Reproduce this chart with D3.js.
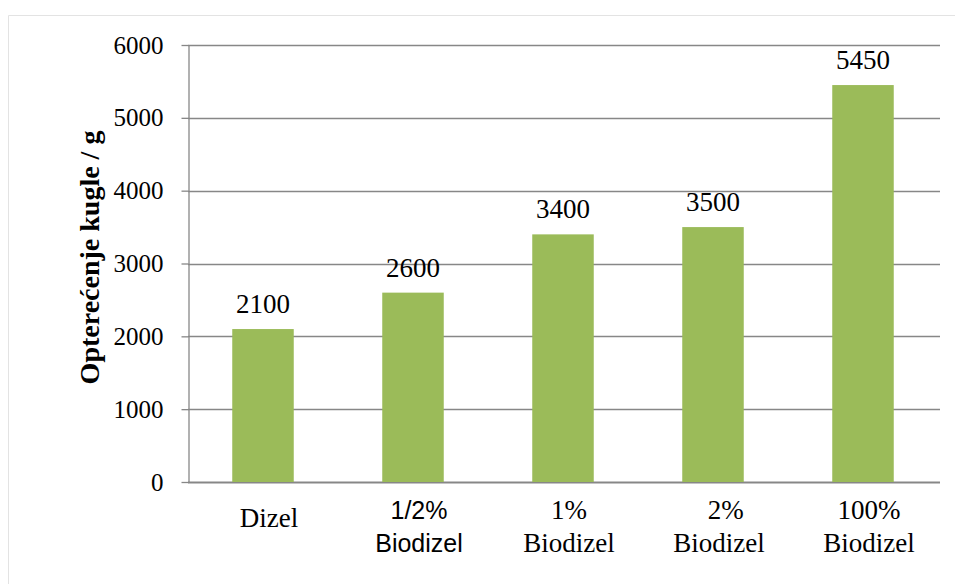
<!DOCTYPE html>
<html>
<head>
<meta charset="utf-8">
<script src="https://cdn.jsdelivr.net/npm/d3@7"></script>
<style>
  body { margin: 0; background: #fff; }
  .serif { font-family: "Liberation Serif", "Times New Roman", Times, serif; }
  .sans { font-family: "Liberation Sans", Arial, sans-serif; }
</style>
</head>
<body>
<div id="vis1"></div>
<script>
// data
const categories = ["Dizel", "1/2% Biodizel", "1% Biodizel", "2% Biodizel", "100% Biodizel"];
const labelLines = [["Dizel"], ["1/2%", "Biodizel"], ["1%", "Biodizel"], ["\u00a0\u00a02%", "Biodizel"], ["100%", "Biodizel"]];
const values = [2100, 2600, 3400, 3500, 5450];
const yTicks = [0, 1000, 2000, 3000, 4000, 5000, 6000];
const yTitle = "Opterećenje kugle / g";

// set the dimensions and margins of the graph
let margin = { top: 45, left: 188, right: 15, bottom: 102 },
  width = 955 - margin.left - margin.right,
  height = 584 - margin.top - margin.bottom;

const svg = d3.select("#vis1")
  .append("svg")
  .attr("width", 955)
  .attr("height", 584);

// outer frame (only top and left edges show)
svg.append("path")
  .attr("d", "M8.5,584 V15.5 H955")
  .attr("fill", "none")
  .attr("stroke", "#e3e3e3")
  .attr("stroke-width", 1);

const g = svg.append("g")
  .attr("transform", `translate(${margin.left},${margin.top})`);

const x = d3.scaleBand()
  .domain(categories)
  .range([0, 750])
  .paddingInner(0.59)
  .paddingOuter(0.295);

const y = d3.scaleLinear()
  .domain([0, 6000])
  .range([height, 0]);

// grid lines
g.append("g")
  .selectAll("line")
  .data(yTicks)
  .join("line")
    .attr("x1", 0)
    .attr("x2", 752)
    .attr("y1", d => Math.round(y(d)) + 0.5)
    .attr("y2", d => Math.round(y(d)) + 0.5)
    .attr("stroke", "#878787")
    .attr("stroke-width", d => d === 0 ? 2 : 1.3);

// Y axis
const yAxis = g.append("g")
  .attr("transform", "translate(0.5,0)")
  .call(d3.axisLeft(y).tickValues(yTicks).tickFormat(d3.format("d"))
    .tickSize(7).tickPadding(18).tickSizeOuter(0));
yAxis.attr("font-family", null).attr("font-size", null);
yAxis.select(".domain").attr("stroke", "#878787").attr("stroke-width", 1.3);
yAxis.selectAll(".tick line").attr("stroke", "#878787").attr("stroke-width", 1.3);
yAxis.selectAll(".tick text")
  .attr("class", "serif")
  .style("font-size", "25px")
  .attr("fill", "#000");

// bars
g.append("g")
  .selectAll("rect")
  .data(values)
  .join("rect")
    .attr("x", (d, i) => x(categories[i]))
    .attr("y", d => y(d))
    .attr("width", x.bandwidth())
    .attr("height", d => height - y(d))
    .attr("fill", "#9bbb59");

// value labels
g.append("g")
  .selectAll("text")
  .data(values)
  .join("text")
    .attr("class", "serif")
    .attr("x", (d, i) => x(categories[i]) + x.bandwidth() / 2)
    .attr("y", d => y(d) - 16)
    .attr("text-anchor", "middle")
    .style("font-size", "27px")
    .text(d => d);

// category labels
const catG = g.append("g")
  .selectAll("text")
  .data(labelLines)
  .join("text")
    .attr("class", (d, i) => i === 1 ? "sans" : "serif")
    .attr("text-anchor", "middle")
    .style("font-size", (d, i) => i === 1 ? "25px" : "27px")
    .attr("transform", (d, i) => `translate(${x(categories[i]) + x.bandwidth() / 2 + 6},0)`);

catG.selectAll("tspan")
  .data(d => d.map(t => ({ t: t, one: d.length === 1 })))
  .join("tspan")
    .attr("x", 0)
    .attr("y", (d, j) => d.one ? height + 45 : height + 37 + j * 33)
    .text(d => d.t);

// Y axis title
svg.append("text")
  .attr("class", "serif")
  .attr("transform", `translate(99,${margin.top + height / 2 - 6}) rotate(-90)`)
  .attr("text-anchor", "middle")
  .style("font-size", "28px")
  .style("font-weight", "bold")
  .text(yTitle);
</script>
</body>
</html>
